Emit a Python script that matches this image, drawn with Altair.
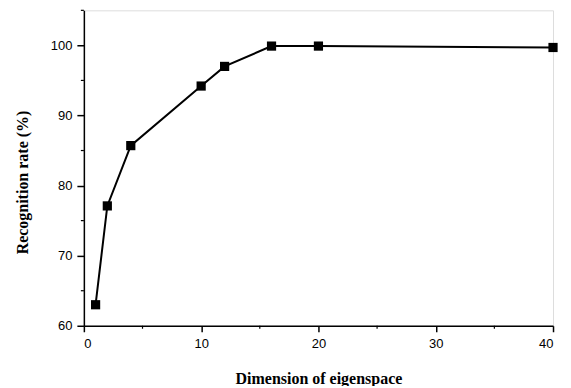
import altair as alt
import pandas as pd

dims = [1, 2, 4, 10, 12, 16, 20, 40]
rates = [63.0, 77.1, 85.7, 94.2, 97.0, 99.9, 99.9, 99.7]
x_major = [0, 10, 20, 30, 40]
x_minor = [5, 15, 25, 35]
y_major = [60, 70, 80, 90, 100]
y_minor = [65, 75, 85, 95, 105]

W, H = 470, 316

df = pd.DataFrame({"dim": dims, "rate": rates})
xs = alt.Scale(domain=[0, 40], nice=False, zero=False)
ys = alt.Scale(domain=[60, 105], nice=False, zero=False)

x_axis = alt.Axis(values=x_major, title="Dimension of eigenspace", grid=False,
                  tickSize=6, labelPadding=6, titlePadding=20,
                  labelFont="Liberation Sans", labelFontSize=13, labelColor="black",
                  titleFont="Liberation Serif", titleFontSize=16, titleFontWeight="bold",
                  titleColor="black", domainColor="black", tickColor="black",
                  domainWidth=1.5, tickWidth=1.5)
y_axis = alt.Axis(values=y_major, title="Recognition rate (%)", grid=False,
                  tickSize=7, labelPadding=5, titleX=-53, titleY=172,
                  labelFont="Liberation Sans", labelFontSize=13, labelColor="black",
                  titleFont="Liberation Serif", titleFontSize=16, titleFontWeight="bold",
                  titleColor="black", domainColor="black", tickColor="black",
                  domainWidth=1.5, tickWidth=1.5)

line = alt.Chart(df).mark_line(color="black", strokeWidth=2).encode(
    x=alt.X("dim:Q", scale=xs, axis=x_axis),
    y=alt.Y("rate:Q", scale=ys, axis=y_axis),
)
pts = alt.Chart(df).mark_point(shape="square", filled=True, color="black", size=85, opacity=1).encode(
    x=alt.X("dim:Q", scale=xs),
    y=alt.Y("rate:Q", scale=ys),
)
xm = alt.Chart(pd.DataFrame({"v": x_minor})).mark_rule(color="black", strokeWidth=1.2).encode(
    x=alt.X("v:Q", scale=xs),
    y=alt.value(H),
    y2=alt.value(H + 3),
)
ym = alt.Chart(pd.DataFrame({"v": y_minor})).mark_rule(color="black", strokeWidth=1.2).encode(
    y=alt.Y("v:Q", scale=ys),
    x=alt.value(-3),
    x2=alt.value(0),
)

chart = alt.layer(line, pts, xm, ym).properties(
    width=W, height=H,
    autosize=alt.AutoSizeParams(type="none"),
    padding={"left": 76, "top": 2, "right": 10, "bottom": 60},
).configure_view(stroke=None).configure(background="white")

chart.save("out.html", embed_options={"renderer": "svg", "actions": False})
